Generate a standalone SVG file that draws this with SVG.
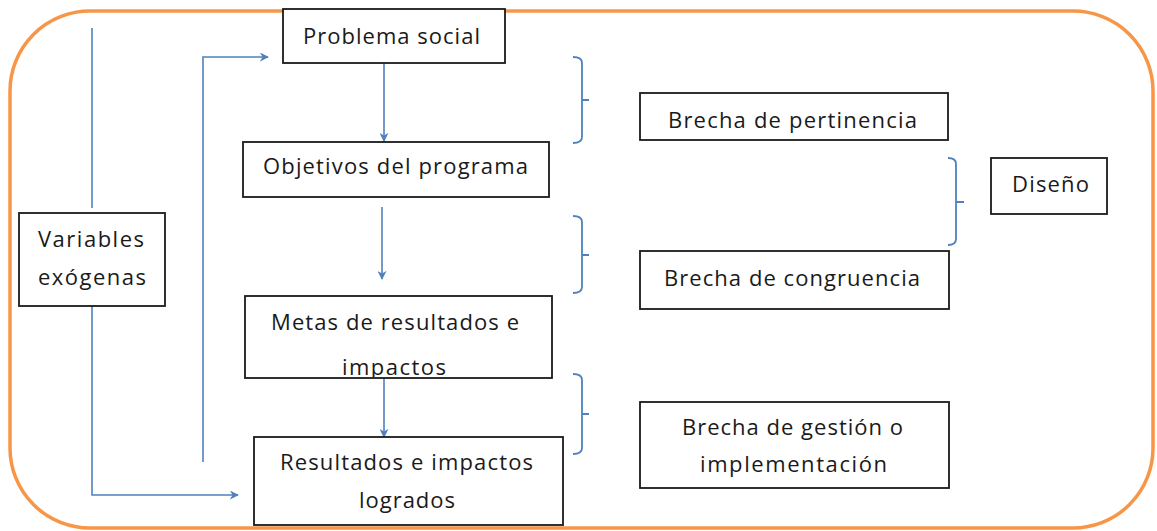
<svg xmlns="http://www.w3.org/2000/svg" width="1157" height="531" viewBox="0 0 1157 531">
<defs>
<style>
.box{fill:#fff;stroke:#1a1a1a;stroke-width:1.8}
.t{font-family:"Open Sans","Liberation Sans",sans-serif;font-size:22px;fill:#1a1a1a}
.c{fill:none;stroke:#4f81bd;stroke-width:1.6}
.br{fill:none;stroke:#4f81bd;stroke-width:1.8}
</style>
<marker id="ah" viewBox="0 0 10 10" refX="9" refY="5" markerWidth="9" markerHeight="9" markerUnits="userSpaceOnUse" orient="auto">
<path d="M0,0 L10,5 L0,10 L3,5 Z" fill="#4f81bd"/>
</marker>
<clipPath id="clipMetas"><rect x="246" y="297" width="305" height="80"/></clipPath>
</defs>
<rect x="10" y="11" width="1143" height="517" rx="80" ry="80" fill="#fff" stroke="#f79646" stroke-width="3.5"/>

<g id="connectors">
<path class="c" d="M92,28 V208"/>
<path class="c" d="M92,293 V495 H238" marker-end="url(#ah)"/>
<path class="c" d="M203,462 V57 H268" marker-end="url(#ah)"/>
<path class="c" d="M384,59 V141" marker-end="url(#ah)"/>
<path class="c" d="M382,207 V279" marker-end="url(#ah)"/>
<path class="c" d="M384,373 V437" marker-end="url(#ah)"/>
<path class="br" d="M573,57 Q582,57 582,63 V100 H589 M582,100 V137 Q582,143 573,143"/>
<path class="br" d="M573,216 Q582,216 582,222 V255 H589 M582,255 V287 Q582,293 573,293"/>
<path class="br" d="M573,374 Q582,374 582,380 V414 H589 M582,414 V448 Q582,454 573,454"/>
<path class="br" d="M948,158 Q956,158 956,164 V202 H964 M956,202 V239 Q956,245 948,245"/>
</g>

<g id="problema">
<rect class="box" x="283" y="9" width="222" height="54"/>
<text class="t" x="303" y="44" textLength="177" lengthAdjust="spacing">Problema social</text>
</g>
<g id="objetivos">
<rect class="box" x="243" y="142" width="306" height="55"/>
<text class="t" x="263" y="174" textLength="265" lengthAdjust="spacing">Objetivos del programa</text>
</g>
<g id="variables">
<rect class="box" x="19" y="213" width="146" height="93"/>
<text class="t" x="38" y="247" textLength="106" lengthAdjust="spacing">Variables</text>
<text class="t" x="38" y="285" textLength="108" lengthAdjust="spacing">exógenas</text>
</g>
<g id="metas">
<rect class="box" x="245" y="296" width="307" height="82"/>
<text class="t" x="271" y="330" textLength="248" lengthAdjust="spacing">Metas de resultados e</text>
<text class="t" x="342" y="375" textLength="104" lengthAdjust="spacing" clip-path="url(#clipMetas)">impactos</text>
</g>
<g id="resultados">
<rect class="box" x="254" y="437" width="309" height="88"/>
<text class="t" x="280" y="470" textLength="253" lengthAdjust="spacing">Resultados e impactos</text>
<text class="t" x="359" y="508" textLength="96" lengthAdjust="spacing">logrados</text>
</g>
<g id="pertinencia">
<rect class="box" x="640" y="93" width="308" height="47"/>
<text class="t" x="668" y="128" textLength="249" lengthAdjust="spacing">Brecha de pertinencia</text>
</g>
<g id="congruencia">
<rect class="box" x="640" y="251" width="309" height="58"/>
<text class="t" x="664" y="286" textLength="256" lengthAdjust="spacing">Brecha de congruencia</text>
</g>
<g id="gestion">
<rect class="box" x="640" y="402" width="309" height="86"/>
<text class="t" x="682" y="435" textLength="221" lengthAdjust="spacing">Brecha de gestión o</text>
<text class="t" x="700" y="472" textLength="187" lengthAdjust="spacing">implementación</text>
</g>
<g id="diseno">
<rect class="box" x="991" y="158" width="116" height="56"/>
<text class="t" x="1012" y="192" textLength="77" lengthAdjust="spacing">Diseño</text>
</g>
</svg>
